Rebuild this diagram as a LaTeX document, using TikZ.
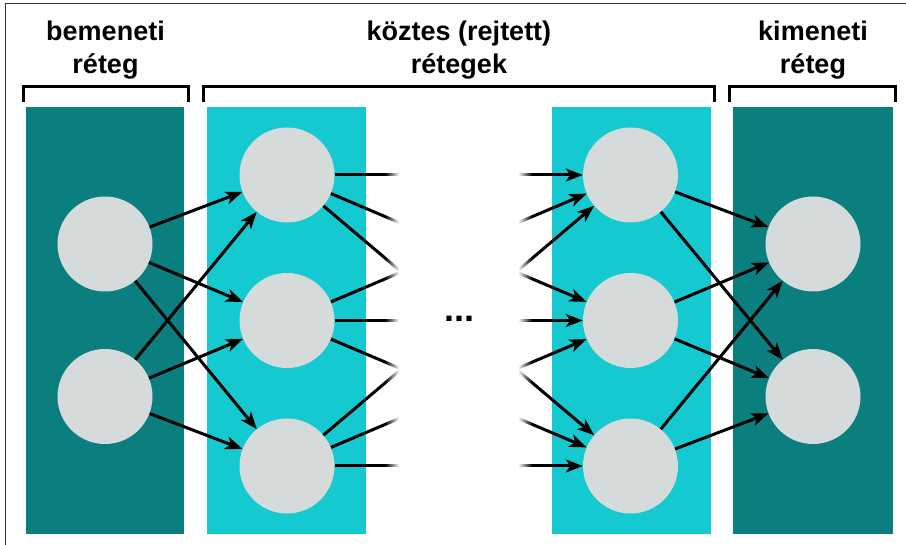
\documentclass[tikz,border=0pt]{standalone}
\usepackage{fontspec}
\setmainfont{Liberation Sans}
\usetikzlibrary{arrows.meta,fadings}
\definecolor{tealdark}{HTML}{0B7E80}
\definecolor{tealcyan}{HTML}{15C9D0}
\definecolor{neurongray}{HTML}{D5DBDB}
\tikzfading[name=fadeon, left color=transparent!100, right color=transparent!0]
\tikzfading[name=fadeoff, left color=transparent!0, right color=transparent!100]
\tikzset{
  neuron/.style={circle, fill=neurongray, minimum size=95pt, inner sep=0pt},
  link/.style={line width=3pt, -{Stealth[length=17pt,width=13pt,inset=4.5pt]}},
  bracketline/.style={line width=3pt},
  title/.style={font=\bfseries\fontsize{27}{33}\selectfont, align=center, anchor=north, inner sep=0pt}
}
\begin{document}
\begin{tikzpicture}[x=1pt, y=-1pt]
  \useasboundingbox (0,0) rectangle (906,545);
  \draw[line width=1.5pt, black!80] (5.5,545) |- (906,3.5);
  \fill[tealdark] (26,107) rectangle (184,534);
  \fill[tealcyan] (207,107) rectangle (366,534);
  \fill[tealcyan] (552,107) rectangle (711,534);
  \fill[tealdark] (733,107) rectangle (893,534);
  \draw[bracketline] (23,102) |- (188,87) -- (188,102);
  \draw[bracketline] (203,102) |- (714,87) -- (714,102);
  \draw[bracketline] (729,102) |- (895,87) -- (895,102);
  \node[title] (tin) at (105.5,20.5) {bemeneti\\réteg};
  \node[title] (thid) at (459,20.5) {köztes (rejtett)\\rétegek};
  \node[title] (tout) at (813,20.5) {kimeneti\\réteg};
  \foreach \i/\y in {1/244,2/396.5} {
    \node[neuron] (in\i) at (105,\y) {};
    \node[neuron] (out\i) at (813,\y) {};
  }
  \foreach \i/\y in {1/175,2/320.5,3/466} {
    \node[neuron] (ha\i) at (287,\y) {};
    \node[neuron] (hb\i) at (630.5,\y) {};
  }
  \foreach \i in {1,2} \foreach \j in {1,2,3} {
    \draw[link] (in\i) -- (ha\j);
    \draw[link] (hb\j) -- (out\i);
  }
  \foreach \i in {1,2,3} \foreach \j in {1,2,3}
    \draw[link] (ha\i) -- (hb\j);
  \fill[white, path fading=fadeon] (385,110) rectangle (399,530);
  \fill[white] (398.5,110) rectangle (518.5,530);
  \fill[white, path fading=fadeoff] (518,110) rectangle (532,530);
  \node[font=\bfseries\fontsize{36}{36}\selectfont] (gap) at (459.5,319) {...};
\end{tikzpicture}
\end{document}
